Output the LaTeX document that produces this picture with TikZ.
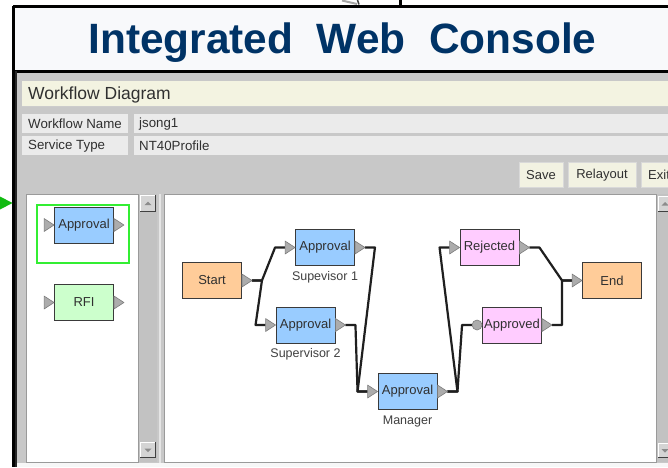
\documentclass[tikz,border=0pt]{standalone}
\usepackage{fontspec}
\setmainfont{Liberation Sans}
\usetikzlibrary{calc}

\definecolor{navy}{HTML}{003366}
\definecolor{titlebg}{HTML}{F8F9FB}
\definecolor{winbg}{HTML}{C8C8C8}
\definecolor{barfill}{HTML}{F3F3E1}
\definecolor{cellfill}{HTML}{EBEBEB}
\definecolor{btnfill}{HTML}{F2F2E2}
\definecolor{txt}{HTML}{303030}
\definecolor{roletxt}{HTML}{404040}
\definecolor{boxline}{HTML}{3A3A3A}
\definecolor{apblue}{HTML}{99CCFF}
\definecolor{termorange}{HTML}{FFCC99}
\definecolor{decpink}{HTML}{FFCCFF}
\definecolor{rfigreen}{HTML}{CCFFCC}
\definecolor{portfill}{HTML}{ACACAC}
\definecolor{portline}{HTML}{7C7C7C}
\definecolor{selgreen}{HTML}{33EE33}
\definecolor{pointgreen}{HTML}{11BB11}
\definecolor{scrolltrack}{HTML}{C2C2C2}
\definecolor{scrollbtn}{HTML}{D4D4D4}
\definecolor{panelline}{HTML}{9A9A9A}

% 3D scroll button: corners and arrow direction (1 = up, -1 = down)
\newcommand\scrollbutton[5]{%
  \fill[scrollbtn] (#1,#2) rectangle (#3,#4);
  \draw[white, line width=1pt] (#1+0.5,#4) -- (#1+0.5,#2+0.5) -- (#3,#2+0.5);
  \draw[black!75, line width=1.2pt] (#1,#4-0.6) -- (#3-0.6,#4-0.6) -- (#3-0.6,#2);
  \fill[black!45] ($(0.5*#1+0.5*#3,0.5*#2+0.5*#4)+(-3.5,#5*1.5)$) -- ++(7,0) -- ++(-3.5,-#5*3.5) -- cycle;
}

\begin{document}
\begin{tikzpicture}[x=1pt,y=-1pt,
  wfbox/.style={draw=boxline, line width=0.9pt, minimum width=59pt, minimum height=36pt,
    inner sep=0pt, font=\fontsize{13}{15}\selectfont, text=txt},
  approval/.style={wfbox, fill=apblue},
  terminal/.style={wfbox, fill=termorange},
  decision/.style={wfbox, fill=decpink},
  rfi/.style={wfbox, fill=rfigreen},
  role/.style={font=\fontsize{12.5}{14}\selectfont, text=roletxt, inner sep=0pt},
  port/.style={fill=portfill, draw=portline, line width=0.6pt, line join=round},
  wire/.style={draw=black!88, line width=2.2pt, line join=round},
  celltext/.style={font=\fontsize{13.3}{15}\selectfont, text=txt, anchor=west, inner sep=0pt},
  btn/.style={fill=btnfill, draw=white!85!black, line width=0.6pt},
  btntext/.style={font=\fontsize{13}{15}\selectfont, text=txt, inner sep=0pt}
]
\useasboundingbox (0,0) rectangle (668,467);
\begin{scope}
\clip (0,0) rectangle (668,467);
\fill[white] (0,0) rectangle (668,467);

% --- fragments of the figure above the console frame
\draw[gray!70, line width=2pt] (342,0.5) -- (357,4);
\draw[gray!50!black, line width=1.5pt] (357.5,0) -- (359,4.5);
\draw[black, line width=3pt] (400,0) -- (400,7);

% --- title banner
\fill[titlebg] (13,7) rectangle (668,70);
\node[anchor=base, text=navy, inner sep=0pt,
      font=\fontsize{42.4}{46}\bfseries\selectfont] (title) at (342.5,53)
  {Integrated~~Web~~Console};

% --- console window
\fill[winbg] (15,71) rectangle (668,467);
\fill[white!85!winbg] (15,463) rectangle (668,467);
\draw[black, line width=2.6pt] (13,6.5) -- (668,6.5);
\draw[black, line width=2.6pt] (13.3,6) -- (13.3,467);
\draw[black, line width=3pt] (13,71) -- (668,71);
\draw[black!85, line width=2pt] (16,71) -- (16,467);

% header bar
\fill[barfill] (22,81) rectangle (668,106);
\draw[white!80!black, line width=0.6pt] (22,106) -- (668,106);
\node[anchor=west, inner sep=0pt, text=txt, font=\fontsize{17.5}{19}\selectfont]
  (wfhead) at (28,94.5) {Workflow Diagram};

% property rows
\fill[cellfill] (22,114) rectangle (128,133);
\fill[cellfill] (134,114) rectangle (668,133);
\fill[cellfill] (22,136) rectangle (128,155);
\fill[cellfill] (134,136) rectangle (668,155);
\node[celltext] (lname) at (28,124) {Workflow Name};
\node[celltext] (vname) at (139,124) {jsong1};
\node[celltext] (ltype) at (28,146) {Service Type};
\node[celltext] (vtype) at (139,146) {NT40Profile};

% buttons
\draw[btn] (519,162) rectangle (563,187);
\draw[btn] (568,162) rectangle (636,187);
\draw[btn] (641,162) rectangle (690,187);
\node[btntext] (bsave) at (541,175) {Save};
\node[btntext] (brelayout) at (602,175) {Relayout};
\node[btntext, anchor=west] (bexit) at (648,175) {Exit};

% --- palette panel with its scrollbar
\fill[white] (26,194) rectangle (138,462);
\draw[panelline, line width=0.8pt] (26,194) rectangle (138,462);
\fill[scrolltrack] (139,194) rectangle (157,462);
\scrollbutton{140}{195}{156}{212}{1}
\scrollbutton{140}{442}{156}{458}{-1}
\draw[white!90!black, line width=1.2pt] (160,194) -- (160,463);

% --- diagram canvas with its scrollbar
\fill[white] (164,194) rectangle (656,462);
\draw[panelline, line width=0.8pt] (164,194) rectangle (656,462);
\fill[scrolltrack] (657,194) rectangle (668,462);
\scrollbutton{658}{196}{672}{212}{1}
\scrollbutton{658}{443}{672}{458}{-1}

% pointer into the palette
\fill[pointgreen] (0,196.5) -- (12.5,203) -- (0,209.5) -- cycle;

% --- palette entries
\draw[selgreen, line width=2pt] (37,205) rectangle (129,263);
\node[approval] (palapp) at (84,225) {Approval};
\node[rfi] (palrfi) at (84,302.5) {RFI};

% --- workflow nodes
\node[terminal] (start)    at (212,280.5) {Start};
\node[approval] (sup1)     at (325,247.5) {Approval};
\node[approval] (sup2)     at (305.5,325) {Approval};
\node[approval] (mgr)      at (407.5,391.5) {Approval};
\node[decision] (rejected) at (489.5,247.5) {Rejected};
\node[decision] (approved) at (512,325) {Approved};
\node[terminal] (end)      at (612,280.5) {End};

\node[role] (sup1lbl) at (325,277) {Supevisor 1};
\node[role] (sup2lbl) at (305.5,354.5) {Supervisor 2};
\node[role] (mgrlbl)  at (407.5,421.5) {Manager};

% port points: inputs 10pt left of the box, outputs 10pt right of it
\foreach \n in {start,sup1,sup2,mgr,rejected,approved,end,palapp,palrfi}{
  \coordinate (\n-in)  at ($(\n.west)+(-10,0)$);
  \coordinate (\n-out) at ($(\n.east)+(10,0)$);
}

% --- connectors: stub out, straight run, stub in
\foreach \a/\b in {start/sup1, start/sup2, sup1/mgr, sup2/mgr,
                   mgr/rejected, mgr/approved, rejected/end, approved/end}{
  \draw[wire] (\a-out) -- ++(10,0) -- ($(\b-in)+(-10,0)$) -- (\b-in);
}

% --- ports drawn over the connectors
\foreach \n in {sup1,sup2,mgr,rejected,end,palapp,palrfi}{
  \filldraw[port] ($(\n.west)+(-10,-6.5)$) -- (\n.west) -- ($(\n.west)+(-10,6.5)$) -- cycle;
}
\foreach \n in {start,sup1,sup2,mgr,rejected,approved,palapp,palrfi}{
  \filldraw[port] ($(\n.east)+(0,-6.5)$) -- (\n-out) -- ($(\n.east)+(0,6.5)$) -- cycle;
}
\filldraw[port] ($(approved.west)+(-5,0)$) circle (5);
\end{scope}
\end{tikzpicture}
\end{document}
